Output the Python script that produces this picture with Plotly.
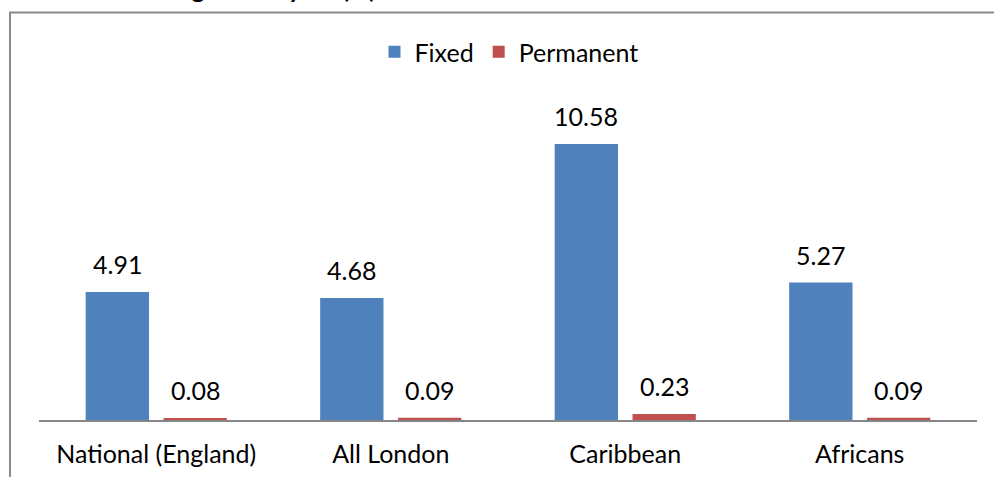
import plotly.graph_objects as go

# Exclusion rates by group (%)
categories = ["National (England)", "All London", "Caribbean", "Africans"]
fixed = [4.91, 4.68, 10.58, 5.27]
permanent = [0.08, 0.09, 0.23, 0.09]

BLUE = "#4F81BD"
RED = "#C0504D"
FONT = "Lato"
FS = 25

W, H = 994, 477
M_L, M_R, M_T, M_B = 39, 17, 107, 57
plot_h = H - M_T - M_B
plot_w = W - M_L - M_R

BAR_W = 0.27
SHIFT = 0.166  # half distance between the two bars of a group

def py(pix):
    """Pixel row -> paper y."""
    return (H - M_B - pix) / plot_h

def px(pix):
    """Pixel column -> paper x."""
    return (pix - M_L) / plot_w

idx = list(range(len(categories)))

fig = go.Figure()
fig.add_trace(go.Bar(
    name="Fixed", x=idx, y=fixed, marker_color=BLUE,
    width=BAR_W, offset=-SHIFT - BAR_W / 2, marker_line_width=0,
))
fig.add_trace(go.Bar(
    name="Permanent", x=idx, y=permanent, marker_color=RED,
    width=BAR_W, offset=SHIFT - BAR_W / 2, marker_line_width=0,
))

annotations = []
for series, sign in ((fixed, -1), (permanent, 1)):
    for i, v in enumerate(series):
        annotations.append(dict(
            x=i + sign * SHIFT, y=v, xref="x", yref="y",
            text=f"{v:.2f}", showarrow=False,
            xanchor="center", yanchor="bottom", yshift=11,
            font=dict(family=FONT, size=FS, color="#000000"),
        ))

# Chart title (sits above the frame)
annotations.append(dict(
    x=px(378), y=py(5), xref="paper", yref="paper",
    text="<b>Exclusion rates during school year (%)</b>",
    showarrow=False, xanchor="right", yanchor="bottom",
    font=dict(family=FONT, size=FS, color="#000000"),
))

fig.update_layout(
    width=W, height=H,
    margin=dict(l=M_L, r=M_R, t=M_T, b=M_B, pad=0, autoexpand=False),
    paper_bgcolor="white", plot_bgcolor="white",
    barmode="overlay",
    font=dict(family=FONT, size=FS, color="#000000"),
    showlegend=True,
    legend=dict(
        orientation="h", x=px(509), y=py(52),
        xanchor="center", yanchor="middle",
        font=dict(family=FONT, size=FS, color="#000000"),
        itemwidth=30, bgcolor="rgba(0,0,0,0)", tracegroupgap=0,
    ),
    xaxis=dict(
        range=[-0.5, len(categories) - 0.5],
        tickmode="array", tickvals=idx, ticktext=categories,
        showgrid=False, zeroline=False,
        showline=True, linecolor="#868686", linewidth=1.5,
        ticks="", ticklabelstandoff=11, automargin=False,
        tickfont=dict(family=FONT, size=FS, color="#000000"),
        fixedrange=True,
    ),
    yaxis=dict(
        range=[0, 12], visible=False, showgrid=False, zeroline=False,
        fixedrange=True, automargin=False,
    ),
    annotations=annotations,
    shapes=[dict(
        type="rect", xref="paper", yref="paper",
        x0=px(10), x1=px(1200), y0=py(700), y1=py(12.5),
        line=dict(color="#898989", width=2), fillcolor="rgba(0,0,0,0)",
        layer="below",
    )],
)

fig.write_html("out.html")
